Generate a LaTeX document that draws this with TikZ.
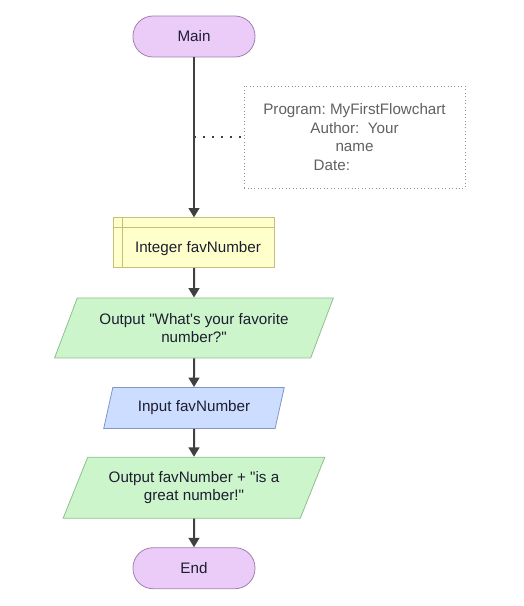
\documentclass[tikz,border=0pt]{standalone}
\usepackage{fontspec}
\setmainfont{Liberation Sans}[Ligatures=TeXOff]
\usepackage{tikz}
\usetikzlibrary{shapes,arrows.meta,positioning}
\usepackage{xcolor}
\frenchspacing
\definecolor{termpurple}{HTML}{EBCCF8}
\definecolor{termborder}{HTML}{9F80B0}
\definecolor{outgreen}{HTML}{CCF5CC}
\definecolor{outborder}{HTML}{8FBF8F}
\definecolor{inblue}{HTML}{CCDDFF}
\definecolor{inborder}{HTML}{8095CC}
\definecolor{declyellow}{HTML}{FFFFCC}
\definecolor{declborder}{HTML}{C8BE78}
\definecolor{flowgray}{HTML}{404040}
\definecolor{notegray}{HTML}{606060}
\definecolor{textdark}{HTML}{1E1E30}

\begin{document}
\begin{tikzpicture}[
                    font=\fontsize{11.4}{14}\selectfont,
                    text=textdark,
                    terminal/.style={rectangle, draw=termborder, fill=termpurple, line width=0.6pt, rounded corners=15pt, minimum width=91.5pt, minimum height=30.75pt},
                    declbox/.style={rectangle, draw=declborder, fill=declyellow, line width=0.6pt, minimum width=120.75pt, minimum height=37.5pt},
                    iobox/.style={trapezium, trapezium stretches=true, line width=0.6pt, align=center, inner xsep=2pt},
                    notebox/.style={rectangle, draw=notegray!70, dotted, line width=0.6pt, minimum width=165.75pt, minimum height=76.5pt, align=center, text=notegray},
                    arrow/.style={-{Triangle[width=8pt,length=7pt]}, draw=flowgray, line width=1.5pt}
                ]
                    \useasboundingbox (-145.5pt,27.375pt) rectangle (247.5pt,-427.125pt);
                    \node[terminal] (main) at (0,0) {Main};
                    \node[declbox, below=120pt of main,
                          label={[xshift=3pt,yshift=-4.5pt]center:Integer favNumber}] (int) {};
                    \node[iobox, draw=outborder, fill=outgreen, below=22pt of int,
                          trapezium left angle=64, trapezium right angle=116,
                          minimum width=209.25pt, minimum height=45pt] (out1) {Output "What's your favorite\\number?"};
                    \node[iobox, draw=inborder, fill=inblue, below=21.5pt of out1,
                          trapezium left angle=74, trapezium right angle=106,
                          minimum width=136.5pt, minimum height=30.75pt] (inp) {Input favNumber};
                    \node[iobox, draw=outborder, fill=outgreen, below=21pt of inp,
                          trapezium left angle=64, trapezium right angle=116,
                          minimum width=196.5pt, minimum height=45.75pt] (out2) {Output favNumber + "is a\\great number!"};
                    \node[terminal, below=21.5pt of out2] (stop) {End};
                    \node[notebox] (note) at (120.4pt,-75.4pt) {Program: MyFirstFlowchart\\Author:\ \ Your\\name\\Date:\hspace*{34pt}};

                    % declaration box inner lines
                    \draw[declborder, line width=0.6pt] ([xshift=7pt]int.north west) -- ([xshift=7pt]int.south west);
                    \draw[declborder, line width=0.6pt] ([yshift=-7.5pt]int.north west) -- ([yshift=-7.5pt]int.north east);

                    \draw[arrow] (main) -- (int);
                    \draw[arrow] (int) -- (out1);
                    \draw[arrow] (out1) -- (inp);
                    \draw[arrow] (inp) -- (out2);
                    \draw[arrow] (out2) -- (stop);
                    \draw[flowgray, line width=1.5pt, dash pattern=on 1.5pt off 5.25pt] (note.west -| main) -- (note.west);
                \end{tikzpicture}
\end{document}
